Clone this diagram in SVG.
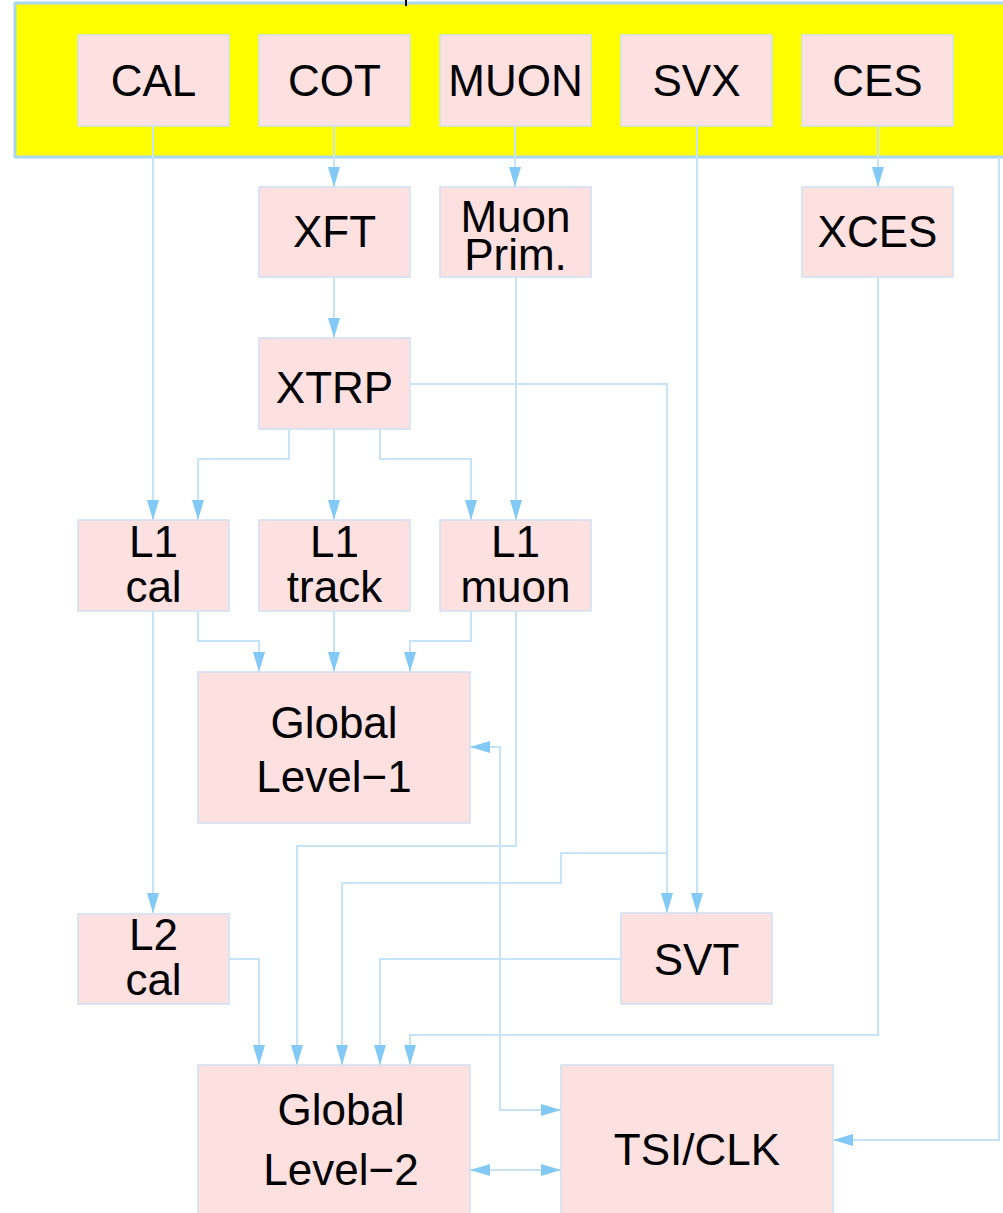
<svg xmlns="http://www.w3.org/2000/svg" width="1003" height="1213" viewBox="0 0 1003 1213">
<style>
.box{fill:#fde1e1;stroke:#cfe0f2;stroke-width:1.5}
.t{font-family:"Liberation Sans",Arial,Helvetica,sans-serif;font-size:44px;fill:#000;text-anchor:middle}
.c{fill:none;stroke:#c6e3f8;stroke-width:2}
</style>
<defs>
<marker id="ah" viewBox="0 0 20 12" refX="20" refY="6" markerWidth="20" markerHeight="12" markerUnits="userSpaceOnUse" orient="auto-start-reverse">
<path d="M0,0 L20,6 L0,12 z" fill="#82c9f6"/>
</marker>
</defs>
<rect width="1003" height="1213" fill="#ffffff"/>
<g id="detector-band">
<rect x="15" y="3" width="1003" height="154" fill="#ffff00" stroke="#a9d6f0" stroke-width="3"/>
<line x1="406" y1="0" x2="406" y2="6" stroke="#000" stroke-width="2"/>
</g>
<g id="connectors">
<path class="c" d="M153,126 V520" marker-end="url(#ah)"/>
<path class="c" d="M334,126 V187" marker-end="url(#ah)"/>
<path class="c" d="M515,126 V187" marker-end="url(#ah)"/>
<path class="c" d="M878,126 V187" marker-end="url(#ah)"/>
<path class="c" d="M334,277 V338" marker-end="url(#ah)"/>
<path class="c" d="M516,277 V520" marker-end="url(#ah)"/>
<path class="c" d="M289,429 V459 H198 V520" marker-end="url(#ah)"/>
<path class="c" d="M334,429 V520" marker-end="url(#ah)"/>
<path class="c" d="M380,429 V459 H471 V520" marker-end="url(#ah)"/>
<path class="c" d="M410,384 H667 V913" marker-end="url(#ah)"/>
<path class="c" d="M697,126 V913" marker-end="url(#ah)"/>
<path class="c" d="M198,611 V641 H259 V672" marker-end="url(#ah)"/>
<path class="c" d="M334,611 V672" marker-end="url(#ah)"/>
<path class="c" d="M471,611 V641 H410 V672" marker-end="url(#ah)"/>
<path class="c" d="M153,611 V913" marker-end="url(#ah)"/>
<path class="c" d="M516,611 V846 H297 V1065" marker-end="url(#ah)"/>
<path class="c" d="M667,853 H561 V883 H342 V1065" marker-end="url(#ah)"/>
<path class="c" d="M621,959 H380 V1065" marker-end="url(#ah)"/>
<path class="c" d="M878,277 V1035 H410 V1065" marker-end="url(#ah)"/>
<path class="c" d="M229,959 H259 V1065" marker-end="url(#ah)"/>
<path class="c" d="M470,747 H500 V1110 H561" marker-start="url(#ah)" marker-end="url(#ah)"/>
<path class="c" d="M470,1170 H561" marker-start="url(#ah)" marker-end="url(#ah)"/>
<path class="c" d="M999,157 V1140 H833" marker-end="url(#ah)"/>
</g>
<g id="CAL"><rect class="box" x="78" y="35" width="151" height="91"/><text class="t" x="153.5" y="96">CAL</text></g>
<g id="COT"><rect class="box" x="259" y="35" width="151" height="91"/><text class="t" x="334.5" y="96">COT</text></g>
<g id="MUON"><rect class="box" x="440" y="35" width="151" height="91"/><text class="t" x="515.5" y="96">MUON</text></g>
<g id="SVX"><rect class="box" x="621" y="35" width="151" height="91"/><text class="t" x="696.5" y="96">SVX</text></g>
<g id="CES"><rect class="box" x="802" y="35" width="151" height="91"/><text class="t" x="877.5" y="96">CES</text></g>
<g id="XFT"><rect class="box" x="259" y="187" width="151" height="90"/><text class="t" x="334.5" y="247">XFT</text></g>
<g id="MuonPrim"><rect class="box" x="440" y="187" width="151" height="90"/><text class="t" x="515.5" y="232">Muon</text><text class="t" x="515.5" y="270">Prim.</text></g>
<g id="XCES"><rect class="box" x="802" y="187" width="151" height="90"/><text class="t" x="877.5" y="247">XCES</text></g>
<g id="XTRP"><rect class="box" x="259" y="338" width="151" height="91"/><text class="t" x="334.5" y="403">XTRP</text></g>
<g id="L1cal"><rect class="box" x="78" y="520" width="151" height="91"/><text class="t" x="153.5" y="557">L1</text><text class="t" x="153.5" y="602">cal</text></g>
<g id="L1track"><rect class="box" x="259" y="520" width="151" height="91"/><text class="t" x="334.5" y="557">L1</text><text class="t" x="334.5" y="602">track</text></g>
<g id="L1muon"><rect class="box" x="440" y="520" width="151" height="91"/><text class="t" x="515.5" y="557">L1</text><text class="t" x="515.5" y="602">muon</text></g>
<g id="GlobalL1"><rect class="box" x="198" y="672" width="272" height="151"/><text class="t" x="334" y="738">Global</text><text class="t" x="334" y="792">Level−1</text></g>
<g id="L2cal"><rect class="box" x="78" y="914" width="151" height="90"/><text class="t" x="153.5" y="950">L2</text><text class="t" x="153.5" y="995">cal</text></g>
<g id="SVT"><rect class="box" x="621" y="913" width="151" height="91"/><text class="t" x="696.5" y="975">SVT</text></g>
<g id="GlobalL2"><rect class="box" x="198" y="1065" width="272" height="160"/><text class="t" x="341" y="1125">Global</text><text class="t" x="341" y="1185">Level−2</text></g>
<g id="TSICLK"><rect class="box" x="561" y="1065" width="272" height="160"/><text class="t" x="697" y="1165">TSI/CLK</text></g>
</svg>
